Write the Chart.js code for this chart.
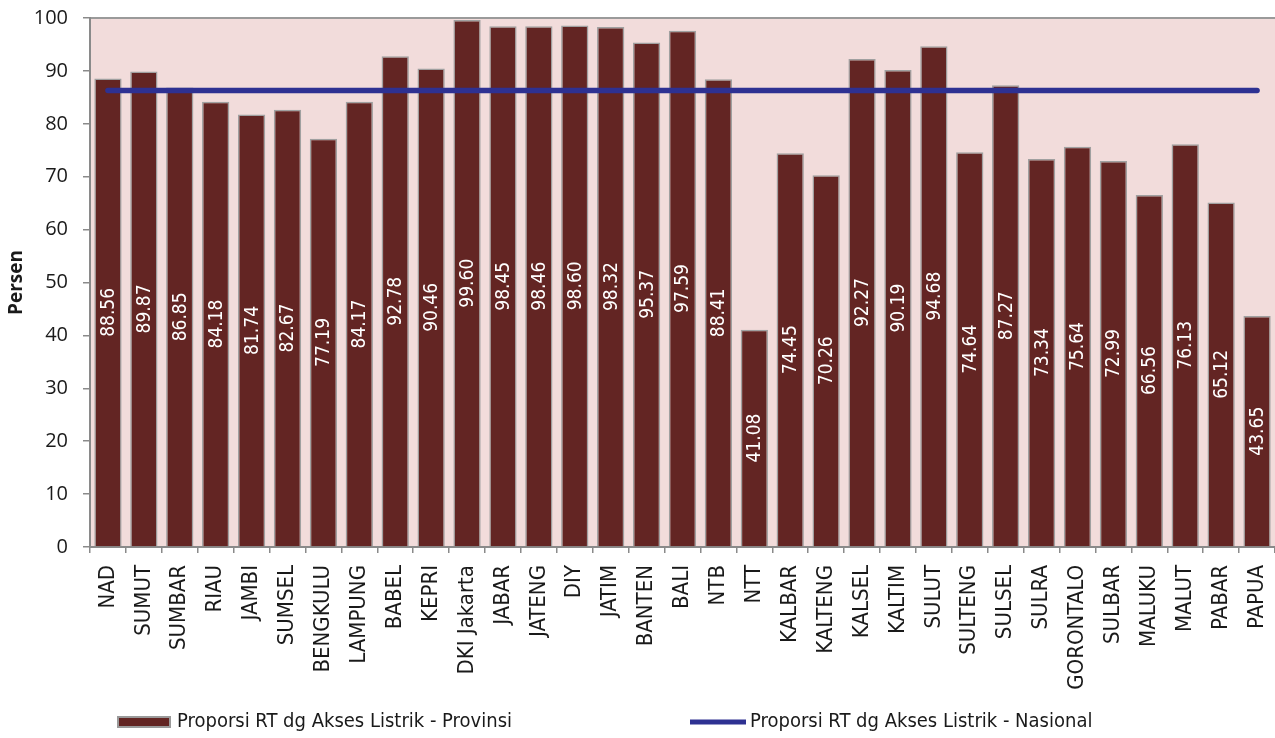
<!DOCTYPE html>
<html>
<head>
<meta charset="utf-8">
<script src="https://cdn.jsdelivr.net/npm/chart.js@4.4.1/dist/chart.umd.min.js"></script>
<style>
html,body{margin:0;padding:0;background:#fff;}
#wrap{width:1275px;height:738px;}
</style>
</head>
<body>
<div id="wrap"><canvas id="c" width="1275" height="738"></canvas></div>
<script>
const categories = ["NAD","SUMUT","SUMBAR","RIAU","JAMBI","SUMSEL","BENGKULU","LAMPUNG","BABEL","KEPRI","DKI Jakarta","JABAR","JATENG","DIY","JATIM","BANTEN","BALI","NTB","NTT","KALBAR","KALTENG","KALSEL","KALTIM","SULUT","SULTENG","SULSEL","SULRA","GORONTALO","SULBAR","MALUKU","MALUT","PABAR","PAPUA"];
const provinsiValues = [88.56,89.87,86.85,84.18,81.74,82.67,77.19,84.17,92.78,90.46,99.60,98.45,98.46,98.60,98.32,95.37,97.59,88.41,41.08,74.45,70.26,92.27,90.19,94.68,74.64,87.27,73.34,75.64,72.99,66.56,76.13,65.12,43.65];
const nasionalValue = 86.3;
const nasionalValues = categories.map(() => nasionalValue);
const yTicks = [0,10,20,30,40,50,60,70,80,90,100];
const seriesLabels = ["Proporsi RT dg Akses Listrik - Provinsi","Proporsi RT dg Akses Listrik - Nasional"];

const NARROW = '"Liberation Sans Narrow", "DejaVu Sans Condensed", sans-serif';
const BAR_COLOR = '#632523';
const LINE_COLOR = '#2e3192';
const BG = '#f2dcdb';

const bgPlugin = {
  id: 'bg',
  beforeDraw(chart) {
    const {ctx, chartArea: a} = chart;
    ctx.save();
    ctx.fillStyle = BG;
    ctx.fillRect(a.left, a.top, a.right - a.left, a.bottom - a.top);
    ctx.strokeStyle = '#9a9a9a';
    ctx.lineWidth = 2;
    ctx.beginPath();
    ctx.moveTo(a.left, a.top);
    ctx.lineTo(a.right, a.top);
    ctx.stroke();
    ctx.restore();
  }
};

const labelPlugin = {
  id: 'barLabels',
  afterDatasetsDraw(chart) {
    const {ctx} = chart;
    const meta = chart.getDatasetMeta(0);
    ctx.save();
    ctx.fillStyle = '#ffffff';
    ctx.font = '19px ' + NARROW;
    ctx.textAlign = 'center';
    ctx.textBaseline = 'middle';
    meta.data.forEach((bar, i) => {
      const v = chart.data.datasets[0].data[i];
      const cy = (bar.y + bar.base) / 2;
      ctx.save();
      ctx.translate(bar.x, cy);
      ctx.rotate(-Math.PI / 2);
      ctx.fillText(v.toFixed(2), 0, 1);
      ctx.restore();
    });
    ctx.restore();
  }
};

const legendPlugin = {
  id: 'customLegend',
  afterDraw(chart) {
    const {ctx} = chart;
    ctx.save();
    const y = 722;
    ctx.fillStyle = BAR_COLOR;
    ctx.fillRect(118, 717, 52, 10);
    ctx.strokeStyle = '#9a9a9a';
    ctx.lineWidth = 2;
    ctx.strokeRect(118, 717, 52, 10);
    ctx.font = '20px "DejaVu Sans Condensed", sans-serif';
    ctx.fillStyle = '#1a1a1a';
    ctx.textBaseline = 'middle';
    ctx.textAlign = 'left';
    ctx.fillText(chart.data.datasets[0].label, 177, y);
    ctx.strokeStyle = LINE_COLOR;
    ctx.lineWidth = 5;
    ctx.beginPath();
    ctx.moveTo(690, y);
    ctx.lineTo(746, y);
    ctx.stroke();
    ctx.fillText(chart.data.datasets[1].label, 750, y);
    ctx.restore();
  }
};

new Chart(document.getElementById('c'), {
  data: {
    labels: categories,
    datasets: [
      {
        type: 'bar',
        label: seriesLabels[0],
        data: provinsiValues,
        backgroundColor: BAR_COLOR,
        borderColor: '#a0a0a0',
        borderWidth: 1.5,
        categoryPercentage: 0.8,
        barPercentage: 0.95,
        order: 1
      },
      {
        type: 'line',
        label: seriesLabels[1],
        data: nasionalValues,
        borderColor: LINE_COLOR,
        backgroundColor: LINE_COLOR,
        borderWidth: 5.5,
        borderCapStyle: 'round',
        pointRadius: 0,
        tension: 0,
        order: 0
      }
    ]
  },
  options: {
    responsive: false,
    animation: false,
    events: [],
    layout: {padding: {top: 18, right: 0, bottom: 40, left: 0}},
    plugins: {legend: {display: false}, tooltip: {enabled: false}},
    scales: {
      x: {
        offset: true,
        grid: {offset: true, drawOnChartArea: false, drawTicks: true, tickLength: 6, color: '#8a8a8a', lineWidth: 1.5},
        border: {color: '#8a8a8a', width: 2},
        ticks: {autoSkip: false, maxRotation: 90, minRotation: 90, padding: 12, color: '#1a1a1a', font: {family: NARROW, size: 22}},
        afterFit(s) { s.height = 151; s.paddingRight = 0; s.paddingLeft = 0; }
      },
      y: {
        min: 0, max: 100,
        afterBuildTicks(s) { s.ticks = yTicks.map(v => ({value: v})); },
        grid: {drawOnChartArea: false, drawTicks: true, tickLength: 7, color: '#8a8a8a', lineWidth: 1.5},
        border: {color: '#8a8a8a', width: 2},
        ticks: {padding: 15, color: '#1a1a1a', font: {family: '"Open Sans", sans-serif', size: 20}},
        title: {display: true, text: 'Persen', color: '#1a1a1a', font: {family: '"Open Sans", sans-serif', size: 19, weight: 'bold'}, padding: {top: 5, bottom: 0}},
        afterFit(s) { s.width = 90; s.paddingTop = 0; s.paddingBottom = 0; }
      }
    }
  },
  plugins: [bgPlugin, labelPlugin, legendPlugin]
});
</script>
</body>
</html>
